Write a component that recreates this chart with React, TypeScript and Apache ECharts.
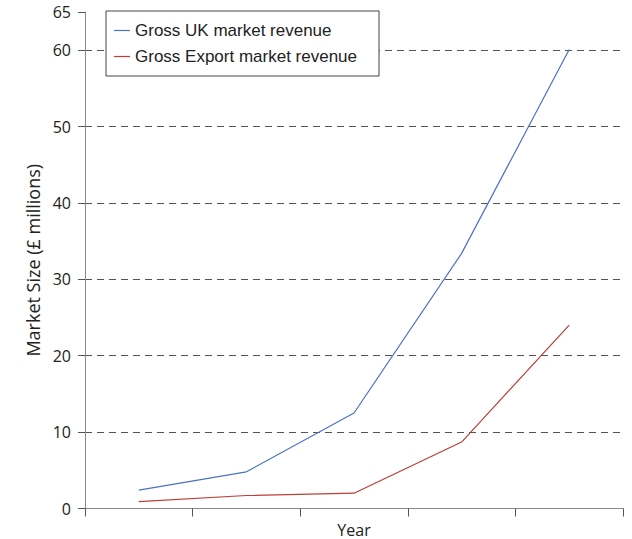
import React, { useEffect, useRef } from "react";
import * as echarts from "echarts";

const years = ["1", "2", "3", "4", "5"];
const ukRevenue = [2.4, 4.8, 12.5, 33.4, 60.1];
const exportRevenue = [0.9, 1.7, 2.0, 8.7, 24.0];
const seriesNames = ["Gross UK market revenue", "Gross Export market revenue"];

const LEGEND_FONT = "Liberation Sans";
const AXIS_FONT = "Open Sans";

export default function App() {
  const ref = useRef<HTMLDivElement>(null);
  useEffect(() => {
    if (!ref.current) return;
    const chart = echarts.init(ref.current, undefined, { renderer: "svg" });
    chart.setOption({
      animation: false,
      textStyle: { fontFamily: AXIS_FONT },
      grid: { left: 85, right: 9, top: 12, bottom: 30.5, outerBoundsMode: "none", containLabel: false },
      legend: {
        orient: "vertical",
        left: 106,
        top: 11,
        data: seriesNames,
        icon: "rect",
        itemWidth: 16,
        itemHeight: 1.2,
        itemGap: 9,
        padding: [11, 22, 11, 8],
        backgroundColor: "#fff",
        borderColor: "#444",
        borderWidth: 1,
        textStyle: { fontFamily: LEGEND_FONT, fontSize: 17, color: "#222" },
      },
      xAxis: {
        type: "category",
        data: years,
        boundaryGap: true,
        name: "Year",
        nameLocation: "middle",
        nameGap: 13,
        nameTextStyle: { fontFamily: AXIS_FONT, fontSize: 16, color: "#222" },
        axisLabel: { show: false },
        axisLine: { lineStyle: { color: "#888", width: 1 } },
        axisTick: { show: true, length: 8, alignWithLabel: false, lineStyle: { color: "#555" } },
        splitLine: { show: false },
      },
      yAxis: {
        type: "value",
        min: 0,
        max: 65,
        interval: 10,
        name: "Market Size (£ millions)",
        nameLocation: "middle",
        nameGap: 43,
        nameTextStyle: { fontFamily: AXIS_FONT, fontSize: 18, color: "#222" },
        axisLine: { show: true, lineStyle: { color: "#888", width: 1 } },
        axisTick: { show: true, length: 7, lineStyle: { color: "#555" } },
        axisLabel: { fontFamily: AXIS_FONT, fontSize: 16, color: "#222", margin: 14 },
        splitLine: {
          show: true,
          showMinLine: false,
          showMaxLine: false,
          lineStyle: { color: "#555", type: [7, 5], width: 1 },
        },
      },
      series: [
        {
          name: seriesNames[0],
          type: "line",
          data: ukRevenue,
          showSymbol: false,
          symbol: "none",
          lineStyle: { color: "#4a72c4", width: 1.2 },
          itemStyle: { color: "#4a72c4" },
        },
        {
          name: seriesNames[1],
          type: "line",
          data: exportRevenue,
          showSymbol: false,
          symbol: "none",
          lineStyle: { color: "#bb3f35", width: 1.2 },
          itemStyle: { color: "#bb3f35" },
        },
      ],
    });
    return () => chart.dispose();
  }, []);
  return <div ref={ref} style={{ width: 632, height: 539, position: "absolute", left: 0, top: 0 }} />;
}
